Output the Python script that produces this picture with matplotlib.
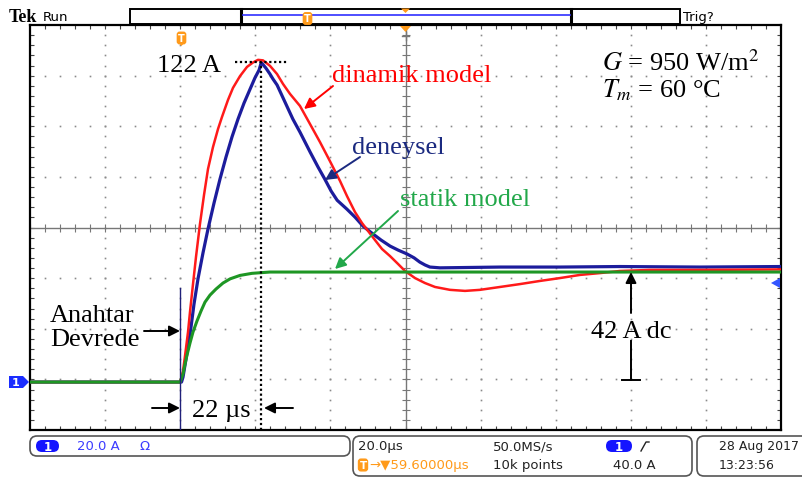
import numpy as np
import matplotlib.pyplot as plt
from matplotlib.patches import FancyBboxPatch, Polygon, Rectangle

# time in us (switch closes at t = 0), current in A
# dinamik model
t_din = [-40, 0, 0.75, 1.28, 2.08, 2.61, 3.41, 4.21, 5.27, 6.34, 7.40, 8.73, 10.07, 11.13,
         12.73, 14.06, 15.93, 17.79, 19.39, 20.72, 22.05, 23.92, 25.78, 27.38, 29.24, 31.9,
         34.57, 37.23, 39.89, 42.55, 44.42, 46.55, 48.42, 50.01, 51.88, 53.74, 55.87, 58.0,
         59.87, 62.53, 65.19, 67.86, 71.85, 75.85, 79.84, 85.17, 90.49, 95.82, 101.15,
         106.47, 111.8, 117.1, 125.1, 138.4, 160]
i_din = [0, 0, 4.2, 9.96, 19.1, 26.8, 37.4, 47.8, 60.4, 71.4, 81.3, 89.7, 96.6, 101.2,
         107.7, 112.3, 116.8, 120.3, 122.0, 123.0, 122.8, 120.7, 117.6, 113.8, 110.0, 105.4,
         98.5, 91.6, 84.3, 76.8, 71.0, 64.9, 60.7, 57.7, 54.2, 50.8, 48.1, 45.1,
         42.4, 39.7, 37.8, 36.3, 35.2, 34.8, 35.2, 36.3, 37.4, 38.6, 39.7,
         40.9, 41.6, 42.4, 42.8, 42.8, 43.0]

# deneysel (measured)
t_den = [-40, 0, 0.35, 0.75, 1.28, 2.08, 2.88, 3.68, 4.74, 6.07, 7.40, 9.0, 10.6, 12.2,
         13.8, 15.4, 17.0, 18.6, 19.9, 21.0, 21.6, 22.8, 23.9, 24.7, 25.8, 27.9, 30.0,
         31.9, 34.6, 36.7, 38.5, 40.2, 41.8, 44.4, 46.6, 48.7, 51.1, 53.5, 55.9, 58.0,
         60.4, 62.3, 63.8, 65.2, 66.5, 69.2, 85.2, 101.2, 117.1, 138.4, 160]
i_den = [0, 0, 0, 1.9, 6.5, 13.4, 21.0, 29.8, 39.4, 49.3, 58.4, 68.3, 77.5, 85.9,
         93.6, 100.4, 106.5, 111.8, 116.1, 119.1, 122.0, 119.9, 117.6, 115.7, 113.4, 106.9, 100.4,
         95.4, 87.8, 82.1, 77.5, 72.9, 69.4, 66.0, 62.9, 59.5, 56.8, 54.2, 51.9, 50.4,
         48.9, 47.4, 45.8, 44.7, 43.9, 43.6, 43.9, 43.9, 44.1, 43.9, 44.1]

# statik model
t_sta = [-40, 0, 0.75, 1.28, 1.81, 2.61, 3.41, 4.47, 5.54, 6.6, 7.94, 9.53, 11.4, 13.3,
         15.9, 19.1, 23.9, 160]
i_sta = [0, 0, 3.1, 6.9, 10.3, 14.9, 19.1, 23.3, 27.1, 30.5, 33.2, 35.5, 37.8, 39.4,
         40.7, 41.5, 42.0, 42.0]

t_pk, i_pk = 21.6, 122.0
i_dc = 42.0

plt.rcParams['mathtext.fontset'] = 'stix'
SERIF = 'Liberation Serif'
SANS = 'DejaVu Sans'

W, H = 802, 481
fig = plt.figure(figsize=(W / 100, H / 100), dpi=100)
fig.patch.set_facecolor('white')

# screen: 10 x 8 divisions, 20 us/div
t0, t1 = -40.0, 160.0
i0, i1 = -18.3, 136.3
ax = fig.add_axes([30 / W, 1 - 431 / H, 751 / W, 405 / H])
ax.set_xlim(t0, t1)
ax.set_ylim(i0, i1)

xdiv = (t1 - t0) / 10
ydiv = (i1 - i0) / 8
xsub = np.linspace(t0, t1, 51)
ysub = np.linspace(i0, i1, 41)
ax.set_xticks(xsub[1:-1])
ax.set_yticks(ysub[1:-1])
ax.tick_params(direction='in', length=3, width=0.8, colors='#444',
               top=True, right=True, labelbottom=False, labelleft=False)
for s in ax.spines.values():
    s.set_linewidth(1.6)
    s.set_color('black')

grid_c = '#8a8a8a'
for k in range(1, 10):
    if k == 5:
        continue
    x = t0 + k * xdiv
    ax.plot(np.full_like(ysub, x), ysub, ls='none', marker='s', ms=1.2, mew=0, color=grid_c)
for k in range(1, 8):
    if k == 4:
        continue
    y = i0 + k * ydiv
    ax.plot(xsub, np.full_like(xsub, y), ls='none', marker='s', ms=1.2, mew=0, color=grid_c)

# centre crosshair with sub-division ticks
xc = t0 + 5 * xdiv
yc = i0 + 4 * ydiv
ax.axvline(xc, color='#777', lw=1)
ax.axhline(yc, color='#777', lw=1)
ax.plot(xsub, np.full_like(xsub, yc), ls='none', marker='|', ms=6, mew=0.8, color='#777')
ax.plot(np.full_like(ysub, xc), ysub, ls='none', marker='_', ms=6, mew=0.8, color='#777')

# traces
ax.plot(t_den, i_den, color='#1c1c9c', lw=2.3, zorder=3, solid_joinstyle='round')
ax.plot(t_din, i_din, color='#ff1a1a', lw=1.8, zorder=4, solid_joinstyle='round')
ax.plot(t_sta, i_sta, color='#1e9624', lw=2.2, zorder=5, solid_joinstyle='round')

# peak markers
ax.plot([t_pk, t_pk], [i0, i_pk], ls=(0, (1, 1.2)), color='black', lw=1.6, zorder=6)
ax.plot([t_pk - 7, t_pk + 7], [i_pk, i_pk], ls=(0, (1, 1.2)), color='black', lw=1.6, zorder=6)
# switching instant
ax.plot([0, 0], [i0, 36], color='#20207a', lw=1.0, zorder=6)

# overlay in pixel coordinates (y down) for labels and scope furniture
ov = fig.add_axes([0, 0, 1, 1], zorder=5)
ov.set_xlim(0, W)
ov.set_ylim(H, 0)
ov.axis('off')


def arrow(tail, tip, color='black'):
    ov.annotate('', xy=tip, xytext=tail,
                arrowprops=dict(arrowstyle='-|>', color=color, lw=1.4,
                                mutation_scale=16, shrinkA=0, shrinkB=0))


fs = 19
ov.text(157, 72, '122 A', family=SERIF, fontsize=fs, va='baseline')
ov.text(332, 82, 'dinamik model', family=SERIF, fontsize=fs, color='#ff0000', va='baseline')
arrow((333, 87), (304, 110), '#ff0000')
ov.text(352, 154, 'deneysel', family=SERIF, fontsize=fs, color='#1b2a80', va='baseline')
arrow((360, 158), (325, 181), '#1b2a80')
ov.text(400, 206, 'statik model', family=SERIF, fontsize=fs, color='#22a84a', va='baseline')
arrow((398, 212), (335, 270), '#22a84a')
ov.text(602, 71, r'$G$ = 950 W/m$^2$', family=SERIF, fontsize=fs, va='baseline')
ov.text(602, 97, r'$T_m$ = 60 °C', family=SERIF, fontsize=fs, va='baseline')
ov.text(50, 322, 'Anahtar', family=SERIF, fontsize=fs, va='baseline')
ov.text(50, 346, 'Devrede', family=SERIF, fontsize=fs, va='baseline')
arrow((144, 332), (180, 332))
ov.text(192, 417, '22 µs', family=SERIF, fontsize=fs, va='baseline')
arrow((152, 409), (180, 409))
arrow((293, 409), (264, 409))
ov.text(591, 338, '42 A dc', family=SERIF, fontsize=fs, va='baseline')
arrow((631, 314), (631, 273))
ov.plot([631, 631], [342, 381], color='black', lw=1.4)
ov.plot([622, 640], [381, 381], color='black', lw=1.4)

orange = '#ff9a1a'
blue = '#1a2cff'

# header
ov.text(9, 22.5, 'Tek', family=SERIF, fontsize=13, weight='bold', va='baseline')
ov.text(43, 21, 'Run', family=SANS, fontsize=9.5, va='baseline')
ov.text(683, 21, 'Trig?', family=SANS, fontsize=9.5, va='baseline')
ov.add_patch(Rectangle((130, 9.5), 550, 15.5, fc='none', ec='black', lw=1.4))
ov.plot([241, 241], [9.5, 25], color='black', lw=2.2)
ov.plot([571, 571], [9.5, 25], color='black', lw=2.2)
ov.plot([243, 570], [16, 16], color='#3030ff', lw=1.2)
ov.text(307.5, 19.5, 'T', fontsize=7, color='white', weight='bold', ha='center', va='center',
        bbox=dict(boxstyle='round,pad=0.15,rounding_size=0.3', fc=orange, ec='none'))
ov.add_patch(Polygon([(401, 9.5), (410, 9.5), (405.5, 14)], fc=orange, ec='none'))
ov.add_patch(Polygon([(400, 27), (411, 27), (405.5, 33)], fc=orange, ec='none'))
ov.plot([405.5, 405.5], [33, 41], color='#777', lw=1)
ov.plot([402, 409], [37, 37], color='#777', lw=1)
ov.text(181.5, 39, 'T', fontsize=7, color='white', weight='bold', ha='center', va='center',
        bbox=dict(boxstyle='round,pad=0.15,rounding_size=0.3', fc=orange, ec='none'))
ov.add_patch(Polygon([(178, 43), (185, 43), (181.5, 47)], fc=orange, ec='none'))

# channel markers
ov.add_patch(Polygon([(9, 377), (23, 377), (29, 383), (23, 389), (9, 389)], fc=blue, ec='none'))
ov.text(16, 383.5, '1', fontsize=8, color='white', weight='bold', ha='center', va='center')
ov.add_patch(Polygon([(771, 284), (780, 279), (780, 289)], fc='#3355ff', ec='none'))

# status bar
box = dict(boxstyle='round,pad=0,rounding_size=7', fc='white', ec='#555', lw=1.2)
ov.add_patch(FancyBboxPatch((30, 437), 320, 20, **box))
ov.add_patch(FancyBboxPatch((353, 437), 339, 40, **box))
ov.add_patch(FancyBboxPatch((697, 437), 115, 40, **box))

ov.add_patch(FancyBboxPatch((36, 441), 23, 12, boxstyle='round,pad=0,rounding_size=6',
                            fc='#1414ff', ec='none'))
ov.text(47.5, 447.5, '1', fontsize=8.5, color='white', weight='bold', ha='center', va='center')
ov.text(77, 447, '20.0 A', family=SANS, fontsize=9.5, color='#3c3cff', va='center')
ov.text(140, 447, 'Ω', family=SANS, fontsize=9.5, color='#3c3cff', va='center')

txt = '#222'
ov.text(358, 447, '20.0µs', family=SANS, fontsize=9.5, color=txt, va='center')
ov.text(493, 447, '50.0MS/s', family=SANS, fontsize=9.5, color=txt, va='center')
ov.add_patch(FancyBboxPatch((606, 441), 26, 12, boxstyle='round,pad=0,rounding_size=6',
                            fc='#1414ff', ec='none'))
ov.text(619, 447.5, '1', fontsize=8.5, color='white', weight='bold', ha='center', va='center')
ov.plot([641, 646, 649], [452, 443, 443], color=txt, lw=1)
ov.text(363, 466, 'T', fontsize=7.5, color='white', weight='bold', ha='center', va='center',
        bbox=dict(boxstyle='round,pad=0.15,rounding_size=0.3', fc=orange, ec='none'))
ov.text(369, 466, '→▼59.60000µs', family=SANS, fontsize=9.5, color=orange, va='center')
ov.text(493, 466, '10k points', family=SANS, fontsize=9.5, color=txt, va='center')
ov.text(613, 466, '40.0 A', family=SANS, fontsize=9.5, color=txt, va='center')
ov.text(719, 447, '28 Aug 2017', family=SANS, fontsize=9, color=txt, va='center')
ov.text(719, 466, '13:23:56', family=SANS, fontsize=9, color=txt, va='center')

fig.savefig('out.png', dpi=100)
